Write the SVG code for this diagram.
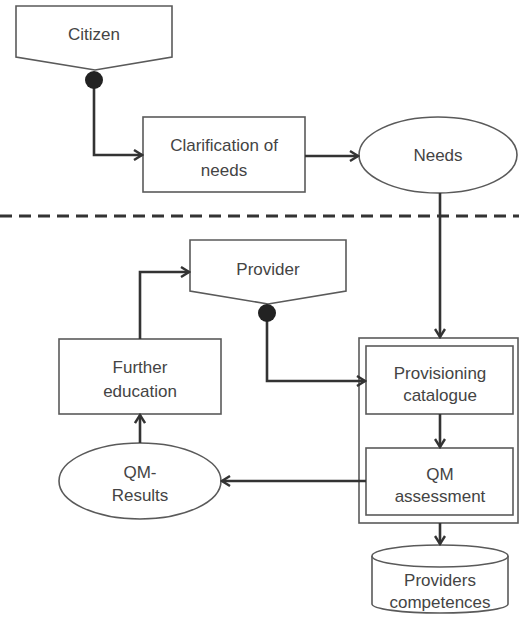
<svg xmlns="http://www.w3.org/2000/svg" width="519" height="618" viewBox="0 0 519 618">
<defs>
<marker id="arr" markerWidth="12" markerHeight="12" refX="10" refY="6" orient="auto" markerUnits="userSpaceOnUse">
<path d="M2,1 L10,6 L2,11" fill="none" stroke="#333" stroke-width="2.4"/>
</marker>
<style>
.shape{fill:#fff;stroke:#5a5a5a;stroke-width:1.6}
.conn{fill:none;stroke:#333;stroke-width:2.6}
.dot{fill:#222}
text{font-family:"Liberation Sans",Arial,sans-serif;font-size:17px;fill:#444;text-anchor:middle}
</style>
</defs>
<rect width="519" height="618" fill="#fff"/>
<line x1="0" y1="216" x2="519" y2="216" stroke="#333" stroke-width="3" stroke-dasharray="12,7"/>
<g id="citizen">
<path class="shape" d="M16,6 H172 V57 L95,70 L16,57 Z"/>
<text x="94" y="40">Citizen</text>
</g>
<g id="clarification">
<rect class="shape" x="143" y="117" width="162" height="75"/>
<text x="224" y="151">Clarification of</text>
<text x="224" y="176">needs</text>
</g>
<g id="needs">
<ellipse class="shape" cx="438" cy="155" rx="79" ry="38"/>
<text x="438" y="161">Needs</text>
</g>
<g id="provider">
<path class="shape" d="M190,240 H346 V291 L268,304 L190,291 Z"/>
<text x="268" y="275">Provider</text>
</g>
<g id="container">
<rect class="shape" x="359" y="338" width="159" height="185"/>
</g>
<g id="provisioning">
<rect class="shape" x="366" y="346" width="147" height="68"/>
<text x="440" y="379">Provisioning</text>
<text x="440" y="401">catalogue</text>
</g>
<g id="qm-assessment">
<rect class="shape" x="366" y="448" width="147" height="67"/>
<text x="440" y="480">QM</text>
<text x="440" y="502">assessment</text>
</g>
<g id="further-education">
<rect class="shape" x="59" y="339" width="162" height="75"/>
<text x="140" y="373">Further</text>
<text x="140" y="397">education</text>
</g>
<g id="qm-results">
<ellipse class="shape" cx="140" cy="481" rx="81" ry="38"/>
<text x="140" y="478">QM-</text>
<text x="140" y="501">Results</text>
</g>
<g id="providers-competences">
<path class="shape" d="M372,556 V604 A68,9 0 0 0 508,604 V556"/>
<ellipse class="shape" cx="440" cy="556" rx="68" ry="11"/>
<text x="440" y="586">Providers</text>
<text x="440" y="608">competences</text>
</g>
<g id="connectors">
<path class="conn" d="M94,80 V155 H142" marker-end="url(#arr)"/>
<circle class="dot" cx="94" cy="80" r="9"/>
<path class="conn" d="M305,156 H358" marker-end="url(#arr)"/>
<path class="conn" d="M440,193 V337" marker-end="url(#arr)"/>
<path class="conn" d="M267,313 V381 H365" marker-end="url(#arr)"/>
<circle class="dot" cx="267" cy="313" r="9"/>
<path class="conn" d="M440,414 V447" marker-end="url(#arr)"/>
<path class="conn" d="M366,481 H222" marker-end="url(#arr)"/>
<path class="conn" d="M140,443 V415" marker-end="url(#arr)"/>
<path class="conn" d="M140,339 V272 H189" marker-end="url(#arr)"/>
<path class="conn" d="M440,523 V544" marker-end="url(#arr)"/>
</g>
</svg>
